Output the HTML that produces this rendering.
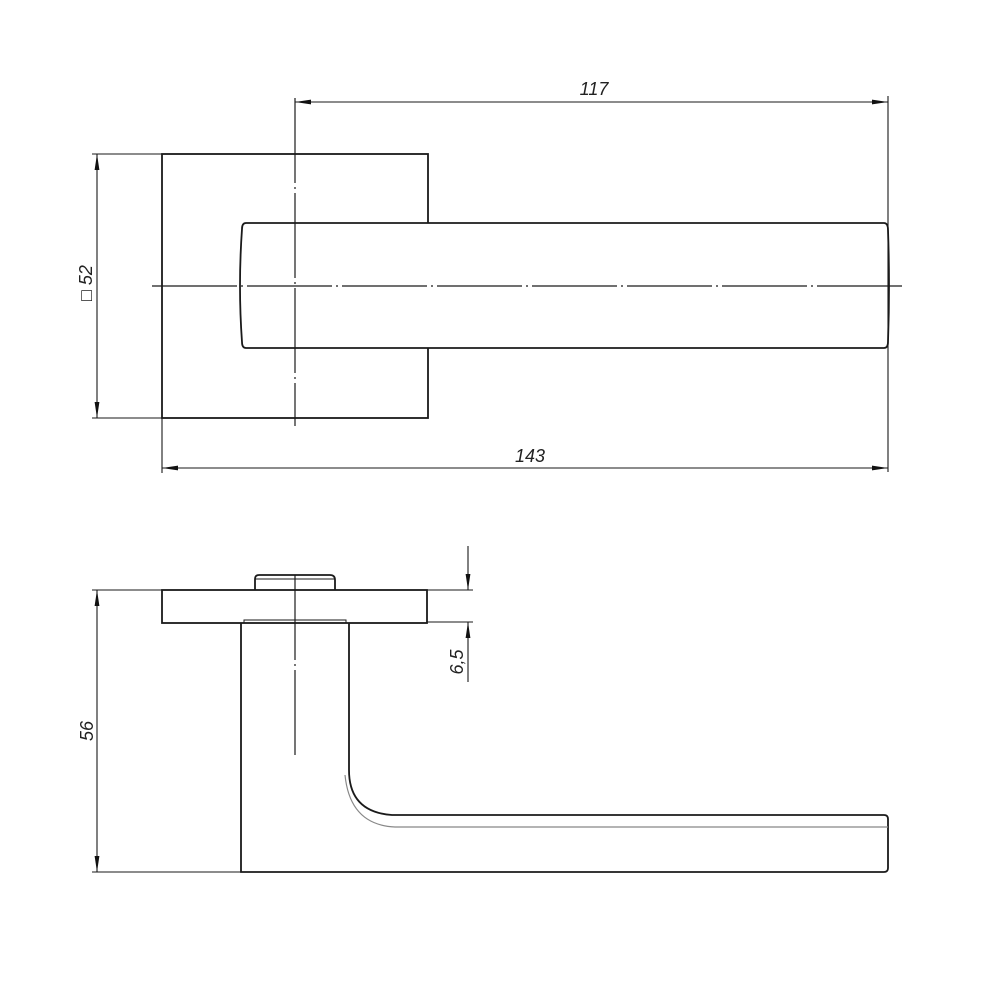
<!DOCTYPE html>
<html><head><meta charset="utf-8"><style>
html,body{margin:0;padding:0;background:#fff;}
svg{display:block;}
text{font-family:"Liberation Sans",sans-serif;font-style:italic;font-size:18px;fill:#222;}
</style></head><body>
<svg width="1000" height="1000" viewBox="0 0 1000 1000" xmlns="http://www.w3.org/2000/svg">
<defs>
<marker id="a" viewBox="0 0 16 6" refX="16" refY="3" markerWidth="16" markerHeight="6" orient="auto-start-reverse" markerUnits="userSpaceOnUse">
<path d="M0,0.6 L16,3 L0,5.4 Z" fill="#111"/>
</marker>
</defs>
<g stroke="#1a1a1a" stroke-width="1.8" fill="none">
<!-- TOP VIEW -->
<rect x="162" y="154" width="266" height="264"/>
<path d="M246,223 L884,223 Q888,223 888,230 Q890,286 888,342 Q888,348 884,348 L246,348 Q242,348 242,342 Q238,286 242,229 Q242,223 246,223 Z" fill="#fff"/>
<line x1="152" y1="286" x2="902" y2="286" stroke-width="1.2" stroke-dasharray="85,4,2,4"/>
<line x1="295" y1="98" x2="295" y2="426" stroke-width="1.2" stroke-dasharray="85,4,2,4"/>
<!-- dim 117 -->
<line x1="888" y1="96" x2="888" y2="472" stroke-width="1.1"/>
<line x1="295" y1="102" x2="888" y2="102" stroke-width="1.1" marker-start="url(#a)" marker-end="url(#a)"/>
<!-- dim 143 -->
<line x1="162" y1="418" x2="162" y2="473" stroke-width="1.1"/>
<line x1="162" y1="468" x2="888" y2="468" stroke-width="1.1" marker-start="url(#a)" marker-end="url(#a)"/>
<!-- dim 52 -->
<line x1="92" y1="154" x2="162" y2="154" stroke-width="1.1"/>
<line x1="92" y1="418" x2="162" y2="418" stroke-width="1.1"/>
<line x1="97" y1="154" x2="97" y2="418" stroke-width="1.1" marker-start="url(#a)" marker-end="url(#a)"/>

<!-- SIDE VIEW -->
<rect x="162" y="590" width="265" height="33"/>
<path d="M255,590 L255,579 Q255,575 259,575 L330,575 Q335,575 335,580 L335,590"/>
<line x1="255" y1="579" x2="335" y2="579" stroke-width="1"/>
<path d="M244,623 L244,620 L346,620 L346,623" stroke-width="1"/>
<path d="M241,623 L241,872 L884,872 Q888,872 888,868 L888,819 Q888,815 884,815 L392,815 Q349,812 349,770 L349,623"/>
<path d="M345,775 Q350,825 395,827 L888,827" stroke="#888" stroke-width="1.2"/>
<line x1="295" y1="575" x2="295" y2="758" stroke-width="1.2" stroke-dasharray="85,4,2,4"/>
<!-- dim 56 -->
<line x1="92" y1="590" x2="162" y2="590" stroke-width="1.1"/>
<line x1="92" y1="872" x2="241" y2="872" stroke-width="1.1"/>
<line x1="97" y1="590" x2="97" y2="872" stroke-width="1.1" marker-start="url(#a)" marker-end="url(#a)"/>
<!-- dim 6,5 -->
<line x1="427" y1="590" x2="473" y2="590" stroke-width="1.1"/>
<line x1="427" y1="622" x2="473" y2="622" stroke-width="1.1"/>
<line x1="468" y1="546" x2="468" y2="590" stroke-width="1.1" marker-end="url(#a)"/>
<line x1="468" y1="682" x2="468" y2="622" stroke-width="1.1" marker-end="url(#a)"/>
</g>
<text x="594" y="95" text-anchor="middle">117</text>
<text x="530" y="462" text-anchor="middle">143</text>
<text transform="translate(92,283) rotate(-90)" text-anchor="middle">□ 52</text>
<text transform="translate(93,731) rotate(-90)" text-anchor="middle">56</text>
<text transform="translate(463,662) rotate(-90)" text-anchor="middle">6,5</text>
</svg>
</body></html>
